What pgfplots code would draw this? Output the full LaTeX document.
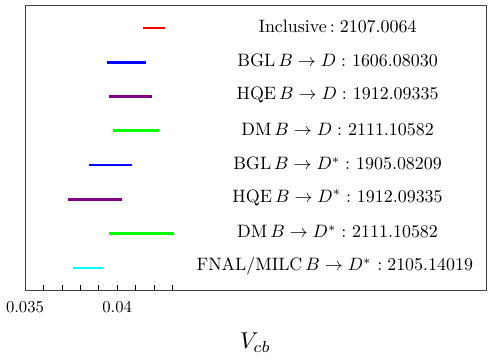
\documentclass[border=0pt]{standalone}
\usepackage{pgfplots}
\pgfplotsset{compat=1.18}
\definecolor{mpurple}{RGB}{128,0,128}
\definecolor{mgreen}{RGB}{0,255,0}
\definecolor{mcyan}{RGB}{0,255,255}
\definecolor{mblue}{RGB}{0,0,255}
\definecolor{mred}{RGB}{255,0,0}
\begin{document}
\begin{tikzpicture}
\begin{axis}[
  scale only axis,
  width=461bp, height=285bp,
  xmin=0.035, xmax=0.060,
  ymin=0.338, ymax=8.65,
  axis line style={black!75, line width=0.9bp},
  xtick={0.035,0.04},
  xticklabels={0.035,0.04},
  minor xtick={0.036,0.037,0.038,0.039,0.041,0.042,0.043},
  ytick=\empty,
  xtick pos=bottom,
  tick align=inside,
  major tick length=6bp, minor tick length=6bp,
  tick style={black, line width=0.6bp},
  scaled x ticks=false,
  xticklabel style={font=\normalsize, scale=1.67, yshift=-3bp},
  xlabel={$V_{cb}$},
  xlabel style={at={(axis description cs:0.5,0)}, anchor=center, yshift=-52bp, font=\normalsize, scale=2.3},
  clip=false,
]
\addplot[mred, line width=2.7bp] coordinates {(0.041419,8) (0.042605,8)};
\addplot[mblue, line width=2.7bp] coordinates {(0.039461,7) (0.041543,7)};
\addplot[mpurple, line width=2.7bp] coordinates {(0.039547,6) (0.041866,6)};
\addplot[mgreen, line width=2.7bp] coordinates {(0.039746,5) (0.042282,5)};
\addplot[mblue, line width=2.7bp] coordinates {(0.038452,4) (0.040787,4)};
\addplot[mpurple, line width=2.7bp] coordinates {(0.037336,3) (0.040286,3)};
\addplot[mgreen, line width=2.7bp] coordinates {(0.039531,2) (0.043074,2)};
\addplot[mcyan, line width=2.7bp] coordinates {(0.037605,1) (0.039223,1)};
\begin{scope}[every node/.style={font=\normalsize, scale=1.8, anchor=center}]
\node at (axis cs:0.05195,8.05) {Inclusive$\,:2107.0064$};
\node at (axis cs:0.05195,7.05) {BGL\,$B\to D:$ 1606.08030};
\node at (axis cs:0.05195,6.05) {HQE\,$B\to D:$ 1912.09335};
\node at (axis cs:0.05195,5.05) {DM\,$B\to D:$ 2111.10582};
\node at (axis cs:0.05195,4.05) {BGL\,$B\to D^*:$ 1905.08209};
\node at (axis cs:0.05195,3.05) {HQE\,$B\to D^*:$ 1912.09335};
\node at (axis cs:0.05195,2.05) {DM\,$B\to D^*:$ 2111.10582};
\node at (axis cs:0.0518,1.05) {FNAL/MILC\,$B\to D^*$\ $:2105.14019$};
\end{scope}
\end{axis}
\path (current axis.south west) ++(-25bp,-64.3bp) coordinate (bbA);
\path (current axis.north east) ++(3bp,5.7bp) coordinate (bbB);
\path (bbA) rectangle (bbB);
\end{tikzpicture}
\end{document}
